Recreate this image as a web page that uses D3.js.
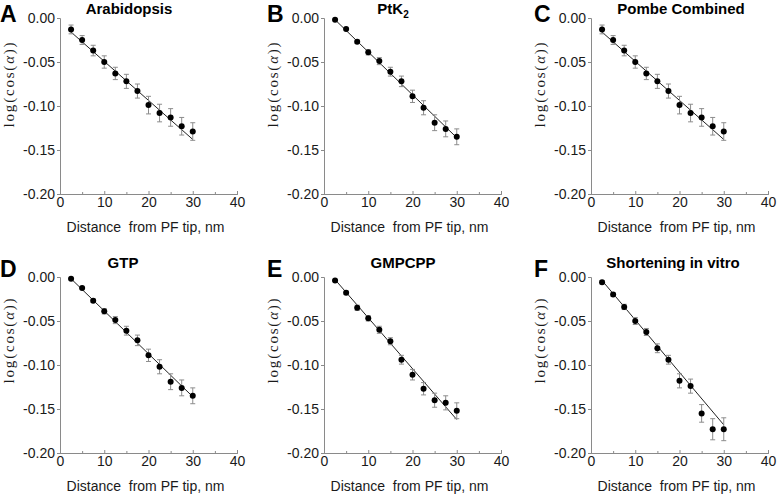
<!DOCTYPE html>
<html>
<head>
<meta charset="utf-8">
<script src="https://cdn.jsdelivr.net/npm/d3@7"></script>
<style>
  body { margin: 0; background: #fff; }
  svg { display: block; font-family: "Liberation Sans", Arial, sans-serif; }
</style>
</head>
<body>
<div id="chart"></div>
<script>
// Distances along the protofilament (nm)
var distance = [2.5, 5, 7.5, 10, 12.5, 15, 17.5, 20, 22.5, 25, 27.5, 30];

// Mean log(cos(alpha)) and error per panel
var arabidopsisMean = [-0.013, -0.025, -0.037, -0.050, -0.063, -0.072, -0.083, -0.099, -0.108, -0.113, -0.123, -0.129];
var arabidopsisErr  = [0.005, 0.005, 0.006, 0.007, 0.007, 0.008, 0.008, 0.010, 0.010, 0.010, 0.010, 0.010];
var ptk2Mean = [-0.002, -0.0125, -0.027, -0.039, -0.049, -0.061, -0.072, -0.089, -0.102, -0.119, -0.126, -0.135];
var ptk2Err  = [0.001, 0.001, 0.002, 0.003, 0.004, 0.005, 0.006, 0.007, 0.008, 0.009, 0.009, 0.009];
var pombeMean = [-0.013, -0.025, -0.037, -0.050, -0.063, -0.072, -0.083, -0.099, -0.108, -0.113, -0.123, -0.129];
var pombeErr  = [0.005, 0.005, 0.006, 0.007, 0.007, 0.008, 0.008, 0.010, 0.010, 0.010, 0.010, 0.010];
var gtpMean = [-0.002, -0.0125, -0.027, -0.039, -0.049, -0.061, -0.072, -0.089, -0.102, -0.119, -0.126, -0.135];
var gtpErr  = [0.001, 0.001, 0.002, 0.003, 0.004, 0.005, 0.006, 0.007, 0.008, 0.009, 0.009, 0.009];
var gmpcppMean = [-0.004, -0.018, -0.035, -0.047, -0.060, -0.073, -0.094, -0.111, -0.127, -0.140, -0.143, -0.152];
var gmpcppErr  = [0.001, 0.002, 0.003, 0.003, 0.004, 0.004, 0.005, 0.006, 0.007, 0.008, 0.008, 0.009];
var shorteningMean = [-0.006, -0.020, -0.034, -0.050, -0.0625, -0.081, -0.094, -0.118, -0.124, -0.155, -0.173, -0.173];
var shorteningErr  = [0.002, 0.002, 0.003, 0.004, 0.004, 0.005, 0.005, 0.008, 0.008, 0.010, 0.012, 0.013];

// Linear fit end values (at x = 2.5 and x = 30)
var fitStart = [-0.016, -0.002, -0.016, -0.002, -0.003, -0.004];
var fitEnd   = [-0.138, -0.136, -0.138, -0.136, -0.162, -0.168];

var panelLetters = ["A", "B", "C", "D", "E", "F"];
var panelTitles = ["Arabidopsis", "PtK2", "Pombe Combined", "GTP", "GMPCPP", "Shortening in vitro"];
var xTicks = [0, 10, 20, 30, 40];
var xMinorTicks = [5, 15, 25, 35];
var yTicks = [0, -0.05, -0.10, -0.15, -0.20];

var means = [arabidopsisMean, ptk2Mean, pombeMean, gtpMean, gmpcppMean, shorteningMean];
var errs = [arabidopsisErr, ptk2Err, pombeErr, gtpErr, gmpcppErr, shorteningErr];

// Layout
var svgWidth = 777, svgHeight = 495;
var colLeft = [60, 324, 591];
var rowTop = [18, 277];
var plotW = 177, plotH = 176;
var titleX = [129, 393, 681, 123, 403, 673];

var svg = d3.select("#chart").append("svg")
  .attr("width", svgWidth)
  .attr("height", svgHeight);

panelLetters.forEach(function(letter, i) {
  var row = Math.floor(i / 3);
  var left = colLeft[i % 3], top = rowTop[row];
  var g = svg.append("g").attr("transform", `translate(${left},${top})`);

  var x = d3.scaleLinear().domain([0, 40]).range([0, plotW]);
  var y = d3.scaleLinear().domain([-0.2, 0]).range([plotH, 0]);

  // axes
  var yAxis = g.append("g")
    .call(d3.axisLeft(y).tickValues(yTicks).tickSize(3).tickPadding(2)
      .tickFormat(d => d.toFixed(2)));
  var xAxis = g.append("g").attr("transform", `translate(0,${plotH})`)
    .call(d3.axisBottom(x).tickValues(xTicks).tickSize(-3).tickPadding(3));
  var xMinor = g.append("g").attr("transform", `translate(0,${plotH})`)
    .call(d3.axisBottom(x).tickValues(xMinorTicks).tickSize(-2).tickFormat(""));
  [yAxis, xAxis, xMinor].forEach(function(a) {
    a.select(".domain").attr("stroke", "#8a8a8a");
    a.selectAll(".tick line").attr("stroke", "#8a8a8a");
    a.selectAll("text").attr("font-size", 14).attr("fill", "#1a1a1a")
      .attr("font-family", "'Liberation Sans', Arial, sans-serif");
  });

  // fit line
  g.append("line")
    .attr("x1", x(distance[0])).attr("y1", y(fitStart[i]))
    .attr("x2", x(distance[distance.length - 1])).attr("y2", y(fitEnd[i]))
    .attr("stroke", "#222").attr("stroke-width", 1);

  // error bars
  var bars = g.append("g").attr("stroke", "#8c8c8c").attr("stroke-width", 1);
  distance.forEach(function(d, k) {
    var m = means[i][k], e = errs[i][k];
    bars.append("line").attr("x1", x(d)).attr("x2", x(d))
      .attr("y1", y(m - e)).attr("y2", y(m + e));
    bars.append("line").attr("x1", x(d) - 2.5).attr("x2", x(d) + 2.5)
      .attr("y1", y(m - e)).attr("y2", y(m - e));
    bars.append("line").attr("x1", x(d) - 2.5).attr("x2", x(d) + 2.5)
      .attr("y1", y(m + e)).attr("y2", y(m + e));
  });

  // points
  g.selectAll("circle.pt").data(distance).enter().append("circle")
    .attr("cx", d => x(d))
    .attr("cy", (d, k) => y(means[i][k]))
    .attr("r", 3)
    .attr("fill", "#000");

  // x axis title
  g.append("text")
    .attr("x", plotW / 2 - 3).attr("y", plotH + 38)
    .attr("text-anchor", "middle")
    .attr("font-size", 14)
    .attr("fill", "#1a1a1a")
    .style("white-space", "pre")
    .text("Distance  from PF tip, nm");

  // y axis title
  var yl = g.append("text")
    .attr("transform", `translate(-46,${row === 0 ? 66 : 63}) rotate(-90)`)
    .attr("text-anchor", "middle")
    .attr("font-family", "'Liberation Serif', 'Times New Roman', serif")
    .attr("font-size", 15)
    .attr("letter-spacing", 1.8)
    .attr("fill", "#1a1a1a");
  yl.append("tspan").text("log(cos(");
  yl.append("tspan").attr("font-style", "italic").text("α");
  yl.append("tspan").text("))");

  // panel letter
  svg.append("text")
    .attr("x", left - 60 + (i % 3 === 0 ? 0 : 3))
    .attr("y", row === 0 ? top + 4 : top)
    .attr("font-size", 23)
    .attr("font-weight", "bold")
    .text(letter);

  // panel title
  var t = svg.append("text")
    .attr("x", titleX[i]).attr("y", row === 0 ? top - 4 : top - 9)
    .attr("text-anchor", "middle")
    .attr("font-size", 15)
    .attr("font-weight", "bold");
  if (panelTitles[i] === "PtK2") {
    t.append("tspan").text("PtK");
    t.append("tspan").attr("font-size", 10).attr("dy", 4).text("2");
  } else {
    t.text(panelTitles[i]);
  }
});
</script>
</body>
</html>
